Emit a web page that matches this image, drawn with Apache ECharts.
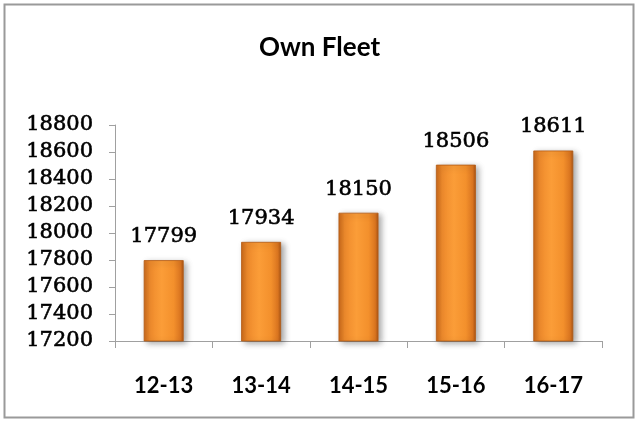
<!DOCTYPE html>
<html>
<head>
<meta charset="utf-8">
<script src="https://cdn.jsdelivr.net/npm/echarts@6/dist/echarts.min.js"></script>
<style>
html,body{margin:0;padding:0;background:#fff;}
#c{width:639px;height:422px;}
</style>
</head>
<body>
<div id="c"></div>
<script>
const categories = ['12-13', '13-14', '14-15', '15-16', '16-17'];
const fleetValues = [17799, 17934, 18150, 18506, 18611];
const yMin = 17200, yMax = 18800, yStep = 200;

const chart = echarts.init(document.getElementById('c'), null, {renderer: 'canvas'});
const serifFont = {fontFamily: 'DejaVu Serif', fontWeight: 'normal', fontSize: 21, color: '#000',
  textBorderColor: '#000', textBorderWidth: 0.6};

chart.setOption({
  backgroundColor: '#fff',
  animation: false,
  title: {
    text: 'Own Fleet',
    left: 'center',
    top: 30,
    textStyle: {fontFamily: 'Lato', fontWeight: 'bold', fontSize: 26, color: '#000'}
  },
  graphic: [{
    type: 'rect',
    shape: {x: 4.5, y: 4.5, width: 629, height: 413},
    style: {fill: 'none', stroke: '#9a9a9a', lineWidth: 2},
    silent: true
  }],
  grid: {left: 115, right: 37, top: 125, bottom: 81, containLabel: false},
  xAxis: {
    type: 'category',
    data: categories,
    boundaryGap: true,
    axisLine: {lineStyle: {color: '#a0a0a0', width: 1}},
    axisTick: {show: true, alignWithLabel: false, length: 7, lineStyle: {color: '#a0a0a0'}},
    axisLabel: {margin: 34, fontFamily: 'Lato', fontWeight: 'bold', fontSize: 22, color: '#000'}
  },
  yAxis: {
    type: 'value',
    min: yMin, max: yMax, interval: yStep,
    splitLine: {show: false},
    axisLine: {show: true, lineStyle: {color: '#a0a0a0', width: 1}},
    axisTick: {show: true, length: 6, lineStyle: {color: '#a0a0a0'}},
    axisLabel: Object.assign({margin: 22, formatter: function (v) { return String(v); }}, serifFont)
  },
  series: [{
    type: 'bar',
    data: fleetValues,
    barWidth: '41%',
    itemStyle: {
      color: new echarts.graphic.LinearGradient(0, 0, 1, 0, [
        {offset: 0, color: '#c8681a'},
        {offset: 0.15, color: '#ee8a2c'},
        {offset: 0.45, color: '#fb9d38'},
        {offset: 0.75, color: '#f3902c'},
        {offset: 0.92, color: '#da7520'},
        {offset: 1, color: '#a95314'}
      ]),
      borderColor: '#b35a14',
      borderWidth: 0.8,
      shadowColor: 'rgba(0,0,0,0.35)',
      shadowBlur: 6,
      shadowOffsetX: 3,
      shadowOffsetY: 2
    },
    label: Object.assign({show: true, position: 'top', distance: 13}, serifFont)
  }]
});
</script>
</body>
</html>
